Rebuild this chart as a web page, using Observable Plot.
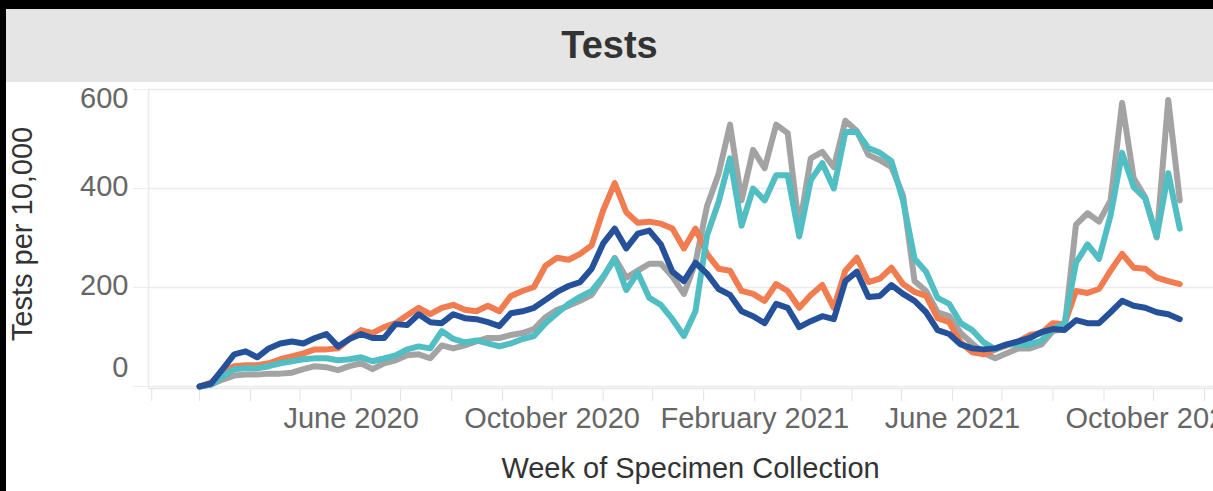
<!DOCTYPE html>
<html>
<head>
<meta charset="utf-8">
<script src="https://cdn.jsdelivr.net/npm/d3@7"></script>
<script src="https://cdn.jsdelivr.net/npm/@observablehq/plot@0.6"></script>
<style>
  html, body { margin: 0; padding: 0; background: #fff; }
  body { width: 1213px; height: 491px; overflow: hidden; position: relative; font-family: "Liberation Sans", Arial, sans-serif; }
  #topbar { position: absolute; left: 0; top: 0; width: 1213px; height: 9px; background: #000; z-index: 5; }
  #leftbar { position: absolute; left: 0; top: 0; width: 6px; height: 491px; background: #000; z-index: 5; }
  #header { position: absolute; left: 6px; top: 9px; width: 1207px; height: 73px; background: #e5e5e5;
            display: flex; align-items: center; justify-content: center;
            font: bold 38px "Liberation Sans", Arial, sans-serif; color: #333; }
  #chart { position: absolute; left: 0; top: 82px; }
  #chart svg { max-width: none !important; }
</style>
</head>
<body>
<div id="topbar"></div>
<div id="leftbar"></div>
<div id="header">Tests</div>
<div id="chart"></div>
<script>
// ---- data (tests per 10,000, weekly) ----
const weekStart = new Date(Date.UTC(2020, 2, 1));   // first week (Sunday)
const weekEnd   = new Date(Date.UTC(2021, 9, 18));  // after last week
const seriesNames  = ["Gray group", "Orange group", "Teal group", "Blue group"];
const seriesColors = ["#a3a3a3", "#f07c50", "#50bec2", "#25509a"];

const grayValues = [0,4,14,22,24,24,26,26,28,35,41,39,33,41,47,35,47,53,63,65,57,83,77,83,91,98,98,104,108,116,
  140,155,163,173,185,220,260,220,234,248,248,222,187,250,364,429,529,376,478,441,529,512,320,461,474,443,537,516,468,457,
  443,386,213,193,150,142,108,87,67,57,67,77,77,85,112,116,327,350,333,376,573,421,382,301,579,376];
const orangeValues = [0,8,30,41,43,43,47,55,61,67,75,75,77,96,114,108,120,128,144,159,146,159,165,155,152,163,152,183,193,201,
  244,260,256,268,285,356,411,352,331,333,329,319,279,319,268,238,234,193,187,173,207,193,159,185,205,159,234,260,211,218,
  240,207,191,183,138,130,89,69,65,75,83,91,104,108,128,126,193,189,197,234,268,240,238,220,213,207];
const tealValues = [0,4,20,35,37,37,41,47,51,55,57,57,53,55,59,51,57,63,75,81,77,112,96,89,93,87,81,87,96,102,
  128,148,167,181,193,222,258,195,230,179,165,136,102,152,305,372,461,325,400,376,427,427,303,417,451,400,514,514,482,472,
  455,376,258,232,179,167,128,114,89,75,85,85,85,93,116,126,250,287,258,346,472,403,380,303,431,319];
const blueValues = [0,6,35,65,71,59,77,87,91,87,98,106,81,96,106,98,98,126,124,146,130,128,146,138,136,130,122,148,152,159,
  175,191,203,211,238,289,319,279,309,315,287,232,213,250,228,197,185,152,142,128,167,159,120,132,142,136,213,232,181,183,
  205,187,173,150,114,106,85,77,75,77,85,91,98,110,116,114,134,128,128,150,173,163,159,150,146,136];

const yTicks = [0, 200, 400, 600];
const xLabelDates = [new Date(Date.UTC(2020,5,1)), new Date(Date.UTC(2020,9,1)), new Date(Date.UTC(2021,1,1)),
                     new Date(Date.UTC(2021,5,1)), new Date(Date.UTC(2021,9,1))];
const xDomain = [new Date(Date.UTC(2020,0,30)), new Date(Date.UTC(2021,10,18))];

// ---- build table ----
const weeks = d3.utcSunday.range(weekStart, weekEnd);
const allSeries = [grayValues, orangeValues, tealValues, blueValues];
const rows = [];
allSeries.forEach((vals, k) => vals.forEach((v, i) => rows.push({week: weeks[i], value: v, group: seriesNames[k]})));

const font = "'Liberation Sans', Arial, sans-serif";
const chart = Plot.plot({
  width: 1232,
  height: 409,
  marginLeft: 148,
  marginRight: 0,
  marginTop: 7,
  marginBottom: 105,
  style: {fontFamily: font, background: "white", maxWidth: "none", overflow: "hidden"},
  x: {type: "utc", domain: xDomain},
  y: {domain: [0, 600]},
  color: {domain: seriesNames, range: seriesColors},
  marks: [
    Plot.ruleY(yTicks, {stroke: "#ebebeb", strokeWidth: 1.5}),
    Plot.ruleY([0], {stroke: "#e8e8e8", strokeWidth: 1.5, dy: 2}),
    Plot.frame({anchor: "left", stroke: "#ececec", strokeWidth: 1.5}),
    Plot.axisY(yTicks, {tickSize: 15, stroke: "#ececec", tickFormat: () => "", label: null}),
    Plot.axisY([200, 400], {tickSize: 0, tickPadding: 20, fontSize: 29, fill: "#666", dy: -2, label: null}),
    Plot.axisY([0], {tickSize: 0, tickPadding: 20, fontSize: 29, fill: "#666", dy: -19, label: null}),
    Plot.axisY([600], {tickSize: 0, tickPadding: 20, fontSize: 29, fill: "#666", dy: 9, label: null}),
    Plot.axisX({ticks: d3.utcMonth.every(1), tickSize: 12, stroke: "#e2e2e2", dy: 3, tickFormat: () => "", label: null}),
    Plot.axisX(xLabelDates, {tickSize: 0, tickPadding: 21, fontSize: 29, fill: "#666", tickFormat: d3.utcFormat("%B %Y"), label: null}),
    Plot.text(["Week of Specimen Collection"], {frameAnchor: "bottom", dy: 82, fontSize: 29, fill: "#333", lineAnchor: "middle", textAnchor: "middle"}),
    Plot.text(["Tests per 10,000"], {frameAnchor: "left", dx: -126, dy: -4, rotate: -90, fontSize: 29, fill: "#333", lineAnchor: "middle", textAnchor: "middle"}),
    Plot.line(rows, {x: "week", y: "value", z: "group", stroke: "group", strokeWidth: 6, strokeLinejoin: "round", strokeLinecap: "round"})
  ]
});
document.getElementById("chart").appendChild(chart);
</script>
</body>
</html>
